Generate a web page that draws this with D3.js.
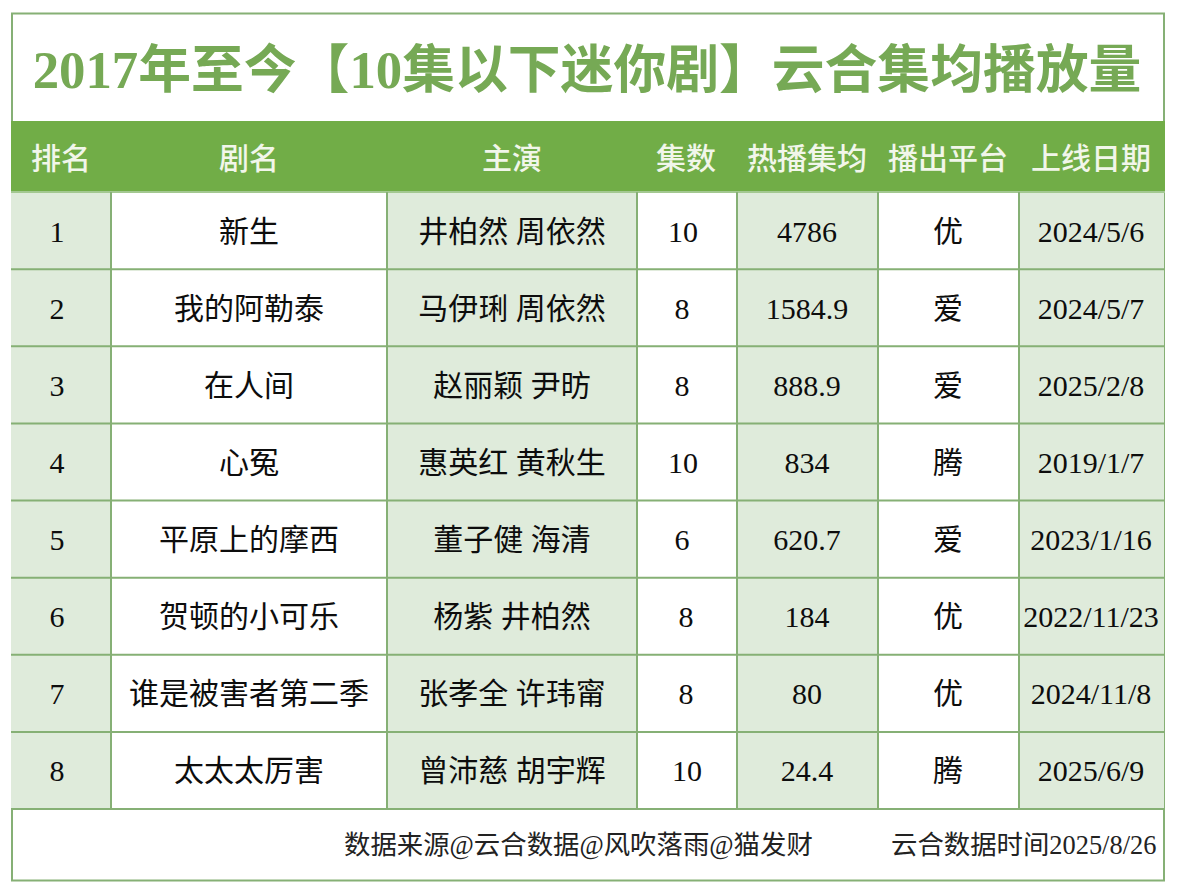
<!DOCTYPE html>
<html>
<head>
<meta charset="utf-8">
<script src="https://cdn.jsdelivr.net/npm/d3@7/dist/d3.min.js"></script>
<style>
    html, body { margin: 0; padding: 0; background: #fff; }
    text { font-family: "Liberation Serif", "Noto Sans CJK SC", serif; }
</style>
</head>
<body>
<div id="chart"></div>
<script>
const title_text = '2017年至今【10集以下迷你剧】云合集均播放量';
const headers = ['排名', '剧名', '主演', '集数', '热播集均', '播出平台', '上线日期'];
const ranks = ['1', '2', '3', '4', '5', '6', '7', '8'];
const dramas = ['新生', '我的阿勒泰', '在人间', '心冤', '平原上的摩西', '贺顿的小可乐', '谁是被害者第二季', '太太太厉害'];
const casts = ['井柏然 周依然', '马伊琍 周依然', '赵丽颖 尹昉', '惠英红 黄秋生', '董子健 海清', '杨紫 井柏然', '张孝全 许玮甯', '曾沛慈 胡宇辉'];
const episodes = ['10', '8', '8', '10', '6', '8', '8', '10'];
const avg_views = ['4786', '1584.9', '888.9', '834', '620.7', '184', '80', '24.4'];
const platforms = ['优', '爱', '爱', '腾', '爱', '优', '优', '腾'];
const dates = ['2024/5/6', '2024/5/7', '2025/2/8', '2019/1/7', '2023/1/16', '2022/11/23', '2024/11/8', '2025/6/9'];
const footer_source = '数据来源@云合数据@风吹落雨@猫发财';
const footer_time = '云合数据时间2025/8/26';

const columns = [ranks, dramas, casts, episodes, avg_views, platforms, dates];

const width = 1179, height = 883;
const border_color = '#86b075';
const main_green = '#71ad47';
const title_green = '#76a955';
const shade = '#dfebdb';

// column edges, the table is not evenly split
const col_edges = [11, 111, 387, 637, 737, 878, 1019, 1164];
const col_centers = [57, 249, 512, 684, 807, 948, 1091];
const header_centers = [61, 249, 512, 686, 807, 948, 1091];
// the episode numbers are not quite centred in the original
const episode_nudge = [-1, -2, -2, -1, -2, 2, 2, 3];

const row_scale = d3.scaleBand().domain(ranks).range([192, 809]);

const svg = d3.select('#chart').append('svg')
    .attr('width', width)
    .attr('height', height)
    .style('display', 'block');

svg.append('rect')
    .attr('x', 12).attr('y', 13.5)
    .attr('width', 1152).attr('height', 867)
    .style('fill', '#fff')
    .style('stroke', border_color)
    .style('stroke-width', 2);

svg.append('text')
    .attr('x', 587)
    .attr('y', 88)
    .attr('text-anchor', 'middle')
    .style('font-size', '52.8px')
    .style('font-weight', 'bold')
    .style('fill', title_green)
    .text(title_text);

svg.append('rect')
    .attr('x', 11).attr('y', 121)
    .attr('width', 1154).attr('height', 71)
    .style('fill', main_green);

headers.forEach(function (h, i) {
    svg.append('text')
        .attr('x', header_centers[i])
        .attr('y', 169)
        .attr('text-anchor', 'middle')
        .style('font-size', '30px')
        .style('font-family', '"Noto Sans CJK SC"')
        .style('font-weight', 500)
        .style('fill', '#f1f6ea')
        .text(h);
});

// shaded columns first, grid lines go on top
columns.forEach(function (col, c) {
    if (c % 2 !== 0) return;
    svg.selectAll('rect.shade_' + c).data(col).enter().append('rect')
        .attr('class', 'shade_' + c)
        .attr('x', col_edges[c])
        .attr('y', (d, i) => row_scale(ranks[i]))
        .attr('width', col_edges[c + 1] - col_edges[c])
        .attr('height', row_scale.bandwidth())
        .style('fill', shade);
});

ranks.forEach(function (r) {
    svg.append('line')
        .attr('x1', 11).attr('x2', 1165)
        .attr('y1', row_scale(r) + row_scale.bandwidth())
        .attr('y2', row_scale(r) + row_scale.bandwidth())
        .style('stroke', border_color)
        .style('stroke-width', 2);
});
svg.append('line')
    .attr('x1', 11).attr('x2', 1165)
    .attr('y1', 192).attr('y2', 192)
    .style('stroke', '#a3c891')
    .style('stroke-width', 2);

col_edges.slice(1, -1).forEach(function (x) {
    svg.append('line')
        .attr('x1', x).attr('x2', x)
        .attr('y1', 192).attr('y2', 809)
        .style('stroke', border_color)
        .style('stroke-width', 2);
});

columns.forEach(function (col, c) {
    svg.selectAll('text.col_' + c).data(col).enter().append('text')
        .attr('class', 'col_' + c)
        .attr('x', (d, i) => col_centers[c] + (col === episodes ? episode_nudge[i] : 0))
        .attr('y', (d, i) => row_scale(ranks[i]) + 49.5)
        .attr('text-anchor', 'middle')
        .style('font-size', '30px')
        .style('fill', '#0d0d0d')
        .text(d => d);
});

svg.append('text')
    .attr('x', 344).attr('y', 854)
    .style('font-size', '26.4px')
    .style('fill', '#222')
    .text(footer_source);

svg.append('text')
    .attr('x', 891).attr('y', 854)
    .style('font-size', '26.4px')
    .style('fill', '#222')
    .text(footer_time);
</script>
</body>
</html>
